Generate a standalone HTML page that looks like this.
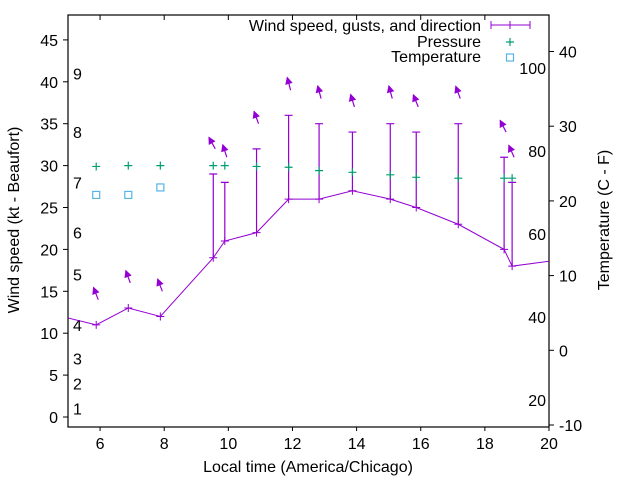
<!DOCTYPE html>
<html><head><meta charset="utf-8"><style>
html,body{margin:0;padding:0;background:#fff;}
svg{display:block;font-family:"Liberation Sans",sans-serif;}
</style></head><body>
<svg id="chart" width="640" height="480" viewBox="0 0 640 480" xmlns="http://www.w3.org/2000/svg">
<rect width="640" height="480" fill="#fff"/>
<g id="plot"></g>
</svg>
<script>
// ---- data ----
const times = [4.9, 5.88, 6.88, 7.88, 9.53, 9.89, 10.88, 11.88, 12.83, 13.87, 15.05, 15.86, 17.17, 18.6, 18.85, 21.0];
const windSpeed = [11.9, 11, 13, 12, 19, 21, 22, 26, 26, 27, 26, 25, 23, 20, 18, 19.1];
const gusts = [null, null, null, null, 29, 28, 32, 36, 35, 34, 35, 34, 35, 31, 28, null];
const windDir = [160, 159, 160, 159, 151, 162, 160, 165, 165, 163, 165, 158, 160, 153, 156, 160];
const pressTimes = [5.88, 6.88, 7.88, 9.53, 9.89, 10.88, 11.88, 12.83, 13.87, 15.05, 15.86, 17.17, 18.6, 18.85];
const pressure = [29.9, 30.0, 30.0, 30.0, 30.0, 29.9, 29.8, 29.4, 29.2, 28.9, 28.6, 28.5, 28.5, 28.5];
const tempTimes = [5.88, 6.88, 7.88];
const tempC = [20.8, 20.8, 21.8];
const xTicks = [6, 8, 10, 12, 14, 16, 18, 20];
const yTicks = [0, 5, 10, 15, 20, 25, 30, 35, 40, 45];
const y2Ticks = [-10, 0, 10, 20, 30, 40];
const fTicks = [20, 40, 60, 80, 100];
const beaufortKt = [1, 4, 7, 11, 17, 22, 28, 34, 41];
const beaufortLabels = ['1','2','3','4','5','6','7','8','9'];

// ---- axes ----
const L = 68, R = 549, T = 15, B = 427;
const xS = v => L + (v - 5) / 15 * (R - L);
const yS = v => 417 - v * 8.38;
const y2S = c => 425 - (c + 10) * 7.47;
const fS = f => y2S((f - 32) * 5 / 9);
const NS = 'http://www.w3.org/2000/svg';
const g = document.getElementById('plot');
function mk(tag, attrs, parent) {
  const e = document.createElementNS(NS, tag);
  for (const k in attrs) e.setAttribute(k, attrs[k]);
  (parent || g).appendChild(e);
  return e;
}
function txt(s, x, y, anchor, parent) {
  const t = mk('text', {x: x, y: y, 'text-anchor': anchor, 'font-size': 16, fill: '#000'}, parent);
  t.textContent = s;
  return t;
}
const PURPLE = '#9400d3', GREEN = '#009e73', CYAN = '#56b4e9';

// clip
const defs = mk('defs', {});
const cp = mk('clipPath', {id: 'clip'}, defs);
mk('rect', {x: L, y: T, width: R - L, height: B - T}, cp);

// x ticks
xTicks.forEach(v => {
  const x = xS(v);
  const tk = mk('line', {x1: x, y1: B, x2: x, y2: B + 4, stroke: '#000'});
  
  
  mk('line', {x1: x, y1: T, x2: x, y2: T + 5, stroke: '#000'});
  const t = txt(String(v), x, 449, 'middle');
  
  
});
// left y ticks
yTicks.forEach(v => {
  const y = yS(v);
  mk('line', {x1: L - 5, y1: y, x2: L, y2: y, stroke: '#000'});
  const t = txt(String(v), L - 10, y + 6, 'end');
  
  
});
// right y ticks
y2Ticks.forEach(v => {
  const y = y2S(v);
  mk('line', {x1: R, y1: y, x2: R + 5, y2: y, stroke: '#000'});
  const t = txt(String(v), R + 10, y + 6, 'start');
  
  
});
// Fahrenheit labels
fTicks.forEach(v => {
  const t = txt(String(v), 546, fS(v) + 6, 'end');
  
  
});
// Beaufort labels
beaufortKt.forEach((v, i) => {
  const t = txt(beaufortLabels[i], 73, yS(v) + 6, 'start');
  
  
});

// frame
const fr = mk('rect', {x: L, y: T, width: R - L, height: B - T, fill: 'none', stroke: '#000', 'stroke-width': 1.2});



// series group
const sg = mk('g', {'clip-path': 'url(#clip)'});
// wind line
const pts = times.map((t, i) => xS(t) + ',' + yS(windSpeed[i])).join(' ');
const wl = mk('polyline', {points: pts, fill: 'none', stroke: PURPLE, 'stroke-width': 1}, sg);


times.forEach((t, i) => {
  const x = xS(t), y = yS(windSpeed[i]);
  const p = mk('path', {d: `M${x-4},${y}H${x+4}M${x},${y-4}V${y+4}`, stroke: PURPLE}, sg);
  
  
  if (gusts[i] != null) {
    const gy = yS(gusts[i]);
    const eb = mk('path', {d: `M${x},${y}V${gy}M${x-4},${gy}H${x+4}`, stroke: PURPLE, 'stroke-width': 1.2}, sg);
    
    
  }
  // direction arrow
  const base = Math.max(windSpeed[i], gusts[i] == null ? 0 : gusts[i]) + 3;
  const ang = (180 - windDir[i]) * Math.PI / 180;
  const len = 13;
  const tx = x + 2, ty = yS(base);
  const hx = tx - len * Math.sin(ang), hy = ty - len * Math.cos(ang);
  const ux = (hx - tx) / len, uy = (hy - ty) / len;
  const ax = hx - ux * 6, ay = hy - uy * 6;
  const a = mk('g', {}, sg);
  
  
  mk('line', {x1: tx, y1: ty, x2: hx, y2: hy, stroke: PURPLE, 'stroke-width': 1.2}, a);
  mk('polygon', {points: `${hx},${hy} ${ax - uy*3},${ay + ux*3} ${ax + uy*3},${ay - ux*3}`, fill: PURPLE, stroke: PURPLE}, a);
});
// pressure
pressTimes.forEach((t, i) => {
  const x = xS(t), y = yS(pressure[i]);
  const p = mk('path', {d: `M${x-4},${y}H${x+4}M${x},${y-4}V${y+4}`, stroke: GREEN, 'stroke-width': 1.2}, sg);
  
  
});
// temperature
tempTimes.forEach((t, i) => {
  const x = xS(t), y = y2S(tempC[i]);
  const r = mk('rect', {x: x - 3.5, y: y - 3.5, width: 7, height: 7, fill: 'none', stroke: CYAN, 'stroke-width': 1.2}, sg);
  
  
});

// legend
const lg = mk('g', {});


txt('Wind speed, gusts, and direction', 481, 31, 'end', lg);
mk('path', {d: 'M491,25H530M491,21V29M530,21V29M510,21V29', stroke: PURPLE, 'stroke-width': 1}, lg);
txt('Pressure', 481, 47, 'end', lg);
mk('path', {d: 'M506,42H514M510,38V46', stroke: GREEN, 'stroke-width': 1.2}, lg);
txt('Temperature', 481, 62, 'end', lg);
mk('rect', {x: 506.5, y: 54, width: 7, height: 7, fill: 'none', stroke: CYAN, 'stroke-width': 1.2}, lg);

// axis titles
const xt = txt('Local time (America/Chicago)', 308, 472, 'middle');


const yt = txt('Wind speed (kt - Beaufort)', 0, 0, 'middle');
yt.setAttribute('transform', 'translate(19,220) rotate(-90)');


const y2t = txt('Temperature (C - F)', 0, 0, 'middle');
y2t.setAttribute('transform', 'translate(609,220) rotate(-90)');


</script>
</body></html>
